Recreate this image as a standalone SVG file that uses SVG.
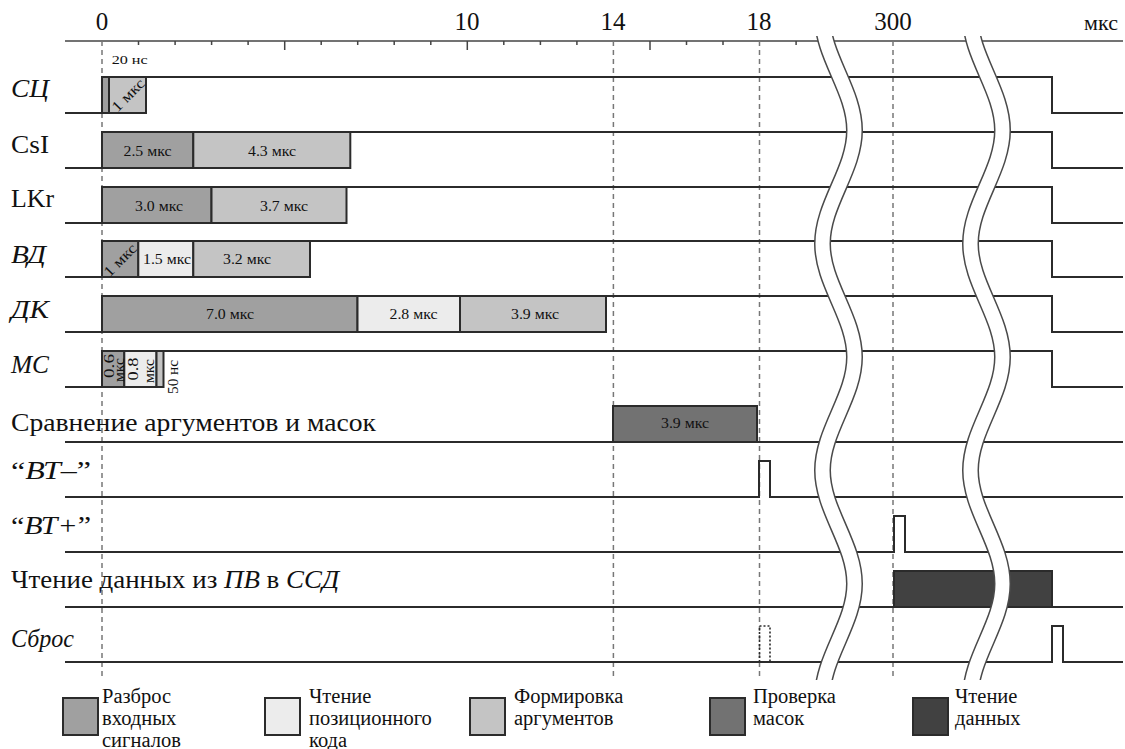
<svg xmlns="http://www.w3.org/2000/svg" width="1125" height="749" viewBox="0 0 1125 749">
<style>
text { font-family: "Liberation Serif", "Times New Roman", serif; fill: #111; }
.lbl { font-size: 25px; }
.it { font-style: italic; }
.ax { font-size: 25px; text-anchor: middle; }
.bx { font-size: 14px; text-anchor: middle; }
.rt { font-size: 15px; text-anchor: middle; }
.lg { font-size: 20.5px; }
.sig { fill: none; stroke: #2b2b2b; stroke-width: 2; }
.box { stroke: #2b2b2b; stroke-width: 2; }
.c1 { fill: #a0a0a0; } .c2 { fill: #ececec; } .c3 { fill: #c4c4c4; } .c4 { fill: #727272; } .c5 { fill: #414141; }
.guide { stroke: #777; stroke-width: 1.5; stroke-dasharray: 5 4; fill: none; }
.axis { stroke: #444; stroke-width: 1.5; fill: none; }
.wo { fill: none; stroke: #4a4a4a; stroke-width: 17; }
.wi { fill: none; stroke: #fff; stroke-width: 14; }
</style>
<defs>
<path id="wv" d="M822.5,17 C822.5,57 854.5,90.3 854.5,130.3 C854.5,170.3 822.5,203.7 822.5,243.7 C822.5,283.7 854.5,317 854.5,357 C854.5,397 822.5,430.3 822.5,470.3 C822.5,510.3 854.5,543.7 854.5,583.7 C854.5,623.7 822.5,657 822.5,697"/>
<clipPath id="wclip"><rect x="0" y="36" width="1125" height="644"/></clipPath>
</defs>
<rect width="1125" height="749" fill="#fff"/>

<g id="axis">
<path class="axis" d="M65,41 H1123"/>
<path class="axis" d="M138.5,41v4 M175.1,41v4 M211.6,41v4 M248.1,41v4 M321.2,41v4 M357.7,41v4 M394.2,41v4 M430.8,41v4 M503.8,41v4 M540.4,41v4 M576.9,41v4 M686.5,41v4 M723,41v4 M796.1,41v4 M284.7,41v9 M467.3,41v9 M650,41v9"/>
<text class="ax" x="102" y="30">0</text>
<text class="ax" x="467" y="30">10</text>
<text class="ax" x="613" y="30">14</text>
<text class="ax" x="759" y="30">18</text>
<text class="ax" x="893" y="30">300</text>
<text class="ax" x="1101" y="30" style="font-size:22px">мкс</text>
</g>

<g id="guides">
<path class="guide" d="M102,41 V680 M613.4,41 V680 M759.5,41 V680 M893,41 V680"/>
</g>

<g id="row-sc">
<text class="lbl it" x="11" y="97" textLength="38" lengthAdjust="spacingAndGlyphs">СЦ</text>
<rect class="box c1" x="102" y="77" width="7" height="36"/>
<rect class="box c3" x="109" y="77" width="37" height="36"/>
<path class="sig" d="M65,113 H102 V77 H1052 V113 H1123"/>
<text x="111.7" y="64" style="font-size:13.5px" textLength="36" lengthAdjust="spacingAndGlyphs">20 нс</text>
<text class="bx" transform="translate(128,95) rotate(-45)" dy="5" style="font-size:15px" textLength="40" lengthAdjust="spacingAndGlyphs">1 мкс</text>
</g>

<g id="row-csi">
<text class="lbl" x="11" y="153" textLength="38" lengthAdjust="spacingAndGlyphs">CsI</text>
<rect class="box c1" x="102" y="132" width="91.3" height="36"/>
<rect class="box c3" x="193.3" y="132" width="157" height="36"/>
<path class="sig" d="M65,168 H102 V132 H1052 V168 H1123"/>
<text class="bx" x="147.5" y="156" textLength="48" lengthAdjust="spacingAndGlyphs">2.5 мкс</text>
<text class="bx" x="272" y="156" textLength="48" lengthAdjust="spacingAndGlyphs">4.3 мкс</text>
</g>

<g id="row-lkr">
<text class="lbl" x="11" y="207" textLength="43" lengthAdjust="spacingAndGlyphs">LKr</text>
<rect class="box c1" x="102" y="187" width="109.5" height="36"/>
<rect class="box c3" x="211.5" y="187" width="135" height="36"/>
<path class="sig" d="M65,223 H102 V187 H1052 V223 H1123"/>
<text class="bx" x="159" y="211" textLength="48" lengthAdjust="spacingAndGlyphs">3.0 мкс</text>
<text class="bx" x="284" y="211" textLength="48" lengthAdjust="spacingAndGlyphs">3.7 мкс</text>
</g>

<g id="row-vd">
<text class="lbl it" x="11" y="263" textLength="35" lengthAdjust="spacingAndGlyphs">ВД</text>
<rect class="box c1" x="102" y="241" width="36.3" height="36"/>
<rect class="box c2" x="138.3" y="241" width="55" height="36"/>
<rect class="box c3" x="193.3" y="241" width="116.7" height="36"/>
<path class="sig" d="M65,277 H102 V241 H1052 V277 H1123"/>
<text class="bx" transform="translate(120,260) rotate(-45)" dy="5" style="font-size:15px" textLength="40" lengthAdjust="spacingAndGlyphs">1 мкс</text>
<text class="bx" x="167" y="264" textLength="48" lengthAdjust="spacingAndGlyphs">1.5 мкс</text>
<text class="bx" x="247" y="264" textLength="48" lengthAdjust="spacingAndGlyphs">3.2 мкс</text>
</g>

<g id="row-dk">
<text class="lbl it" x="11" y="318" textLength="38" lengthAdjust="spacingAndGlyphs">ДК</text>
<rect class="box c1" x="102" y="296" width="255.5" height="36"/>
<rect class="box c2" x="357.5" y="296" width="102.5" height="36"/>
<rect class="box c3" x="460" y="296" width="146" height="36"/>
<path class="sig" d="M65,332 H102 V296 H1052 V332 H1123"/>
<text class="bx" x="230" y="319" textLength="48" lengthAdjust="spacingAndGlyphs">7.0 мкс</text>
<text class="bx" x="413.5" y="319" textLength="48" lengthAdjust="spacingAndGlyphs">2.8 мкс</text>
<text class="bx" x="535" y="319" textLength="48" lengthAdjust="spacingAndGlyphs">3.9 мкс</text>
</g>

<g id="row-ms">
<text class="lbl it" x="11" y="373" textLength="38" lengthAdjust="spacingAndGlyphs">МС</text>
<rect class="box c1" x="102" y="351" width="22.3" height="36"/>
<rect class="box c2" x="124.3" y="351" width="32.2" height="36"/>
<rect class="box c3" x="156.5" y="351" width="7" height="36"/>
<path class="sig" d="M65,387 H102 V351 H1052 V387 H1123"/>
<text class="rt" transform="translate(114,366) rotate(-90)" textLength="24" lengthAdjust="spacingAndGlyphs">0.6</text>
<text class="rt" transform="translate(124,370) rotate(-90)" textLength="24" lengthAdjust="spacingAndGlyphs">мкс</text>
<text class="rt" transform="translate(138,369) rotate(-90)" textLength="23" lengthAdjust="spacingAndGlyphs">0.8</text>
<text class="rt" transform="translate(154,371) rotate(-90)" textLength="24" lengthAdjust="spacingAndGlyphs">мкс</text>
<text class="rt" transform="translate(178,377) rotate(-90)" textLength="34" lengthAdjust="spacingAndGlyphs">50 нс</text>
</g>

<g id="row-cmp">
<text class="lbl" x="11" y="431" textLength="365" lengthAdjust="spacingAndGlyphs">Сравнение аргументов и масок</text>
<rect class="box c4" x="613" y="406" width="144" height="36"/>
<path class="sig" d="M65,442 H613 V406 H757 V442 H1123"/>
<text class="bx" x="685" y="428" textLength="48" lengthAdjust="spacingAndGlyphs">3.9 мкс</text>
</g>

<g id="row-btminus">
<text class="lbl" x="11" y="479" textLength="80" lengthAdjust="spacingAndGlyphs">“<tspan class="it">ВТ–</tspan>”</text>
<path class="sig" d="M65,497 H759 V461 H770 V497 H1123"/>
</g>

<g id="row-btplus">
<text class="lbl" x="11" y="534" textLength="80" lengthAdjust="spacingAndGlyphs">“<tspan class="it">ВТ+</tspan>”</text>
<path class="sig" d="M65,552 H894 V516 H905 V552 H1123"/>
</g>

<g id="row-read">
<text class="lbl" x="11" y="588" textLength="328" lengthAdjust="spacingAndGlyphs">Чтение данных из <tspan class="it">ПВ</tspan> в <tspan class="it">ССД</tspan></text>
<rect class="box c5" x="894" y="571" width="158" height="36"/>
<path class="sig" d="M65,607 H894 V571 H1052 V607 H1123"/>
</g>

<g id="row-reset">
<text class="lbl it" x="11" y="647" textLength="63" lengthAdjust="spacingAndGlyphs">Сброс</text>
<path class="sig" d="M65,662 H1052 V626 H1063 V662 H1123"/>
<path d="M759.5,662 V626 H770 V662" fill="none" stroke="#2b2b2b" stroke-width="1.6" stroke-dasharray="2 2"/>
</g>

<g id="breaks" clip-path="url(#wclip)">
<use href="#wv" class="wo"/>
<use href="#wv" class="wi"/>
<use href="#wv" class="wo" transform="translate(148,0)"/>
<use href="#wv" class="wi" transform="translate(148,0)"/>
</g>

<g id="legend">
<rect class="box c1" x="63" y="698" width="35" height="37"/>
<text class="lg" x="102" y="703">Разброс</text>
<text class="lg" x="102" y="725">входных</text>
<text class="lg" x="102" y="747">сигналов</text>
<rect class="box c2" x="265" y="698" width="35" height="37"/>
<text class="lg" x="309" y="703">Чтение</text>
<text class="lg" x="309" y="725">позиционного</text>
<text class="lg" x="309" y="747">кода</text>
<rect class="box c3" x="470" y="698" width="35" height="37"/>
<text class="lg" x="514" y="703">Формировка</text>
<text class="lg" x="514" y="725">аргументов</text>
<rect class="box c4" x="710" y="698" width="35" height="37"/>
<text class="lg" x="753" y="703">Проверка</text>
<text class="lg" x="753" y="725">масок</text>
<rect class="box c5" x="913" y="698" width="35" height="37"/>
<text class="lg" x="955" y="703">Чтение</text>
<text class="lg" x="955" y="725">данных</text>
</g>
</svg>
